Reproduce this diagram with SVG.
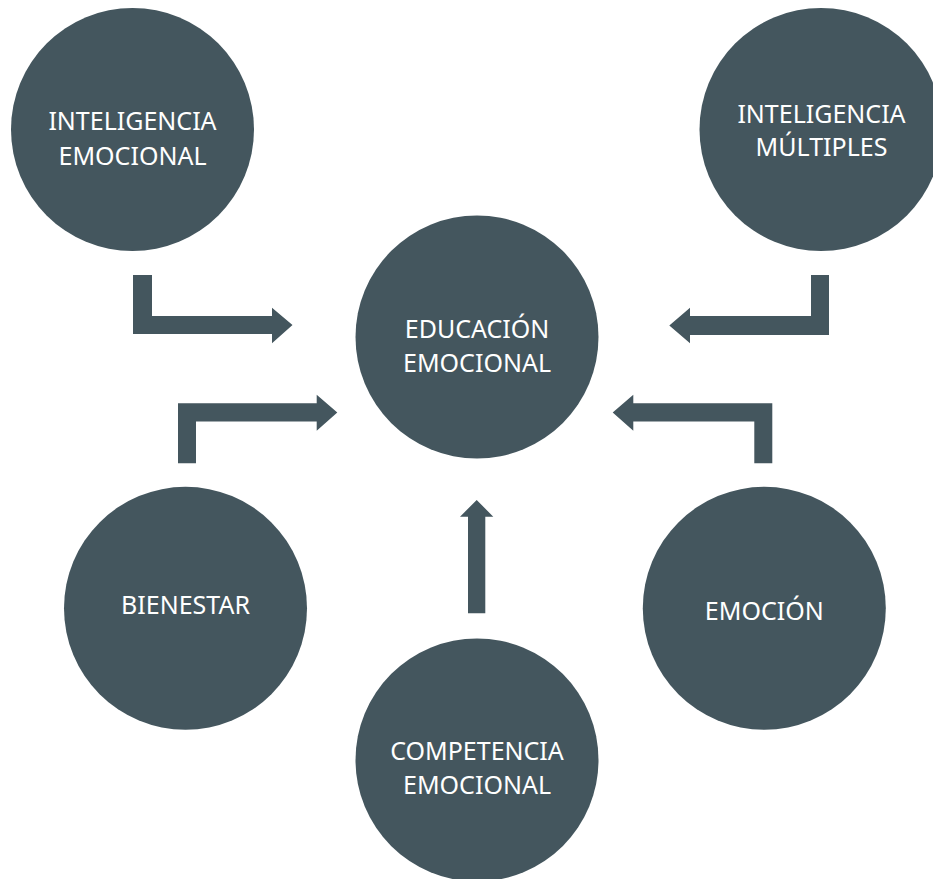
<svg xmlns="http://www.w3.org/2000/svg" width="933" height="879" viewBox="0 0 933 879">
<style>
.n{fill:#44565e}
.a{fill:#44565e}
text{fill:#ffffff;font-family:"Noto Sans","Open Sans",sans-serif;font-size:25px;text-anchor:middle}
</style>
<rect width="933" height="879" fill="#ffffff"/>
<g id="connectors">
<path class="a" d="M133,275 H152 V316 H272 V307.7 L292.5,325 L272,343.3 V334 H133 Z"/>
<path class="a" d="M178,463.3 V403.3 H316.7 V394.7 L337.3,412.5 L316.7,430.7 V421.5 H196 V463.3 Z"/>
<path class="a" d="M829,275 V335 H690 V343.3 L669.3,325.5 L690,307.7 V316 H811 V275 Z"/>
<path class="a" d="M772.3,463.3 V403.3 H633.3 V394.7 L612.7,412.5 L633.3,430.7 V421.5 H754.3 V463.3 Z"/>
<path class="a" d="M468,613.3 V516.7 H460 L476.7,500 L493.3,516.7 H485.3 V613.3 Z"/>
</g>
<g id="inteligencia-emocional">
<circle class="n" cx="132.5" cy="129.5" r="121.5"/>
<text x="132.5" y="130">INTELIGENCIA</text>
<text x="132.5" y="164.5">EMOCIONAL</text>
</g>
<g id="inteligencia-multiples">
<circle class="n" cx="821" cy="129.5" r="121.5"/>
<text x="821.5" y="122.5">INTELIGENCIA</text>
<text x="821.5" y="156">MÚLTIPLES</text>
</g>
<g id="educacion-emocional">
<circle class="n" cx="477" cy="337" r="121.5"/>
<text x="477" y="338.3">EDUCACIÓN</text>
<text x="477" y="372.3">EMOCIONAL</text>
</g>
<g id="bienestar">
<circle class="n" cx="185.5" cy="608.3" r="121.5"/>
<text x="185.5" y="614">BIENESTAR</text>
</g>
<g id="emocion">
<circle class="n" cx="764.3" cy="608.3" r="121.5"/>
<text x="764.3" y="620">EMOCIÓN</text>
</g>
<g id="competencia-emocional">
<circle class="n" cx="477" cy="760" r="121.5"/>
<text x="477" y="760">COMPETENCIA</text>
<text x="477" y="794">EMOCIONAL</text>
</g>
</svg>
